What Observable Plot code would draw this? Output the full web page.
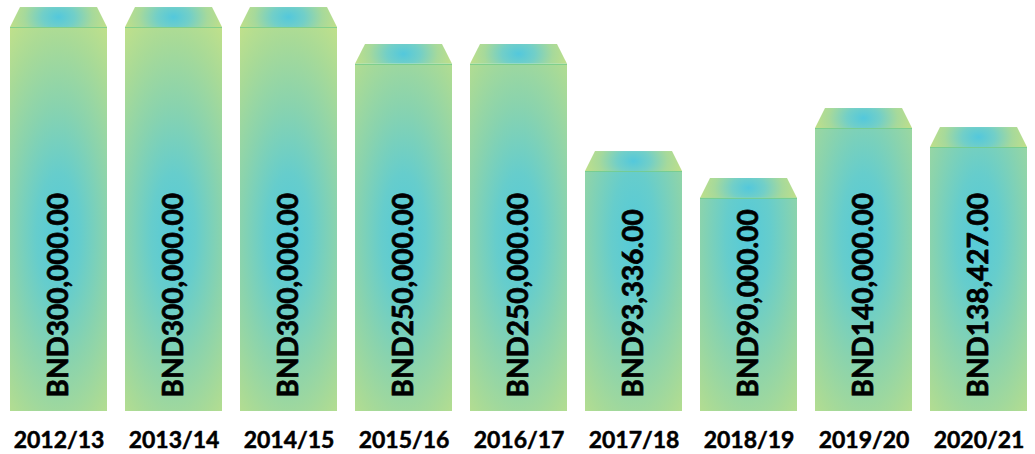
<!DOCTYPE html>
<html>
<head>
<meta charset="utf-8">
<script src="https://cdn.jsdelivr.net/npm/d3@7"></script>
<script src="https://cdn.jsdelivr.net/npm/@observablehq/plot@0.6"></script>
<style>
  html, body { margin: 0; padding: 0; background: #fff; }
  #chart { width: 1035px; height: 454px; }
</style>
</head>
<body>
<div id="chart"></div>
<script>
// Fiscal years (categories)
const years = ["2012/13", "2013/14", "2014/15", "2015/16", "2016/17", "2017/18", "2018/19", "2019/20", "2020/21"];
// Amounts shown on the bars (BND)
const amounts = [300000, 300000, 300000, 250000, 250000, 93336, 90000, 140000, 138427];
// Visual bar heights as drawn in the infographic (percent of the tallest bar; not proportional to amounts)
const barLevels = [100, 100, 100, 90.4, 90.4, 62.5, 55.5, 73.7, 68.75];
// Height of the trapezoid cap, in the same percent units
const capLevel = 5.2;

const fmt = d3.format(",.2f");
const data = years.map((year, i) => ({
  year,
  amount: amounts[i],
  level: barLevels[i],
  capTop: barLevels[i] + capLevel,
  label: "BND" + fmt(amounts[i])
}));

const plot = Plot.plot({
  width: 1035,
  height: 454,
  marginLeft: 9,
  marginRight: 7,
  marginTop: 27,
  marginBottom: 43,
  style: { fontFamily: "Lato, 'Open Sans', sans-serif", background: "white", overflow: "visible" },
  x: { domain: years, paddingInner: 0.158, paddingOuter: 0, axis: null },
  y: { domain: [0, 100], axis: null },
  marks: [
    Plot.barY(data, { x: "year", y1: 0, y2: "level", fill: "#86d4b0" }),
    Plot.barY(data, { x: "year", y1: "level", y2: "capTop", fill: "#a8da9a" }),
    Plot.tickY(data, { x: "year", y: "level", stroke: "#74cc8a", strokeWidth: 1.2, strokeOpacity: 0.8 }),
    Plot.text(data, {
      x: "year", y: 3.65, text: "label", rotate: -90, textAnchor: "start",
      fontSize: 28, fontWeight: "bold", fill: "#000", stroke: "#000", strokeWidth: 0.7
    }),
    Plot.text(data, {
      x: "year", y: 0, dy: 29, text: "year",
      fontSize: 23, fontWeight: "bold", fill: "#000", stroke: "#000", strokeWidth: 0.5
    })
  ]
});

document.getElementById("chart").appendChild(plot);

// Gradients and trapezoid cap shape, derived from the rendered (scaled) rects
const svg = d3.select(plot);
const yScale = plot.scale("y");
const defs = svg.insert("defs", ":first-child");

defs.append("clipPath")
  .attr("id", "capclip")
  .attr("clipPathUnits", "objectBoundingBox")
  .append("polygon")
  .attr("points", "0.103,0 0.897,0 1,1 0,1");

const gradCenterY = yScale.apply(45.8);

function addGradient(id, cx, cy, rx, ry, stops) {
  const g = defs.append("radialGradient")
    .attr("id", id)
    .attr("gradientUnits", "userSpaceOnUse")
    .attr("cx", 0).attr("cy", 0).attr("r", 1)
    .attr("gradientTransform", `translate(${cx},${cy}) scale(${rx},${ry})`);
  stops.forEach(([o, c]) => g.append("stop").attr("offset", o).attr("stop-color", c));
}

const barGroups = plot.querySelectorAll("g[aria-label='bar']");
const bodyGroup = barGroups[0];
const capGroup = barGroups[1];

d3.select(bodyGroup).selectAll("rect").each(function (d, i) {
  const r = d3.select(this);
  const x = +r.attr("x"), w = +r.attr("width");
  const id = "bodygrad" + i;
  addGradient(id, x + w / 2, gradCenterY, 90, 245, [
    [0, "#55cad9"], [0.25, "#66cdcc"], [0.53, "#89d3ae"], [0.8, "#a8da97"], [1, "#bfe08b"]
  ]);
  r.attr("fill", `url(#${id})`);
});

d3.select(capGroup).selectAll("rect").each(function (d, i) {
  const r = d3.select(this);
  const x = +r.attr("x"), w = +r.attr("width");
  const y = +r.attr("y"), h = +r.attr("height");
  const id = "capgrad" + i;
  addGradient(id, x + w / 2, y + h / 2, 55, 38, [
    [0, "#53c8dc"], [0.3, "#72cfc8"], [0.62, "#a6d99b"], [1, "#c8e184"]
  ]);
  r.attr("fill", `url(#${id})`).attr("clip-path", "url(#capclip)");
});
</script>
</body>
</html>
